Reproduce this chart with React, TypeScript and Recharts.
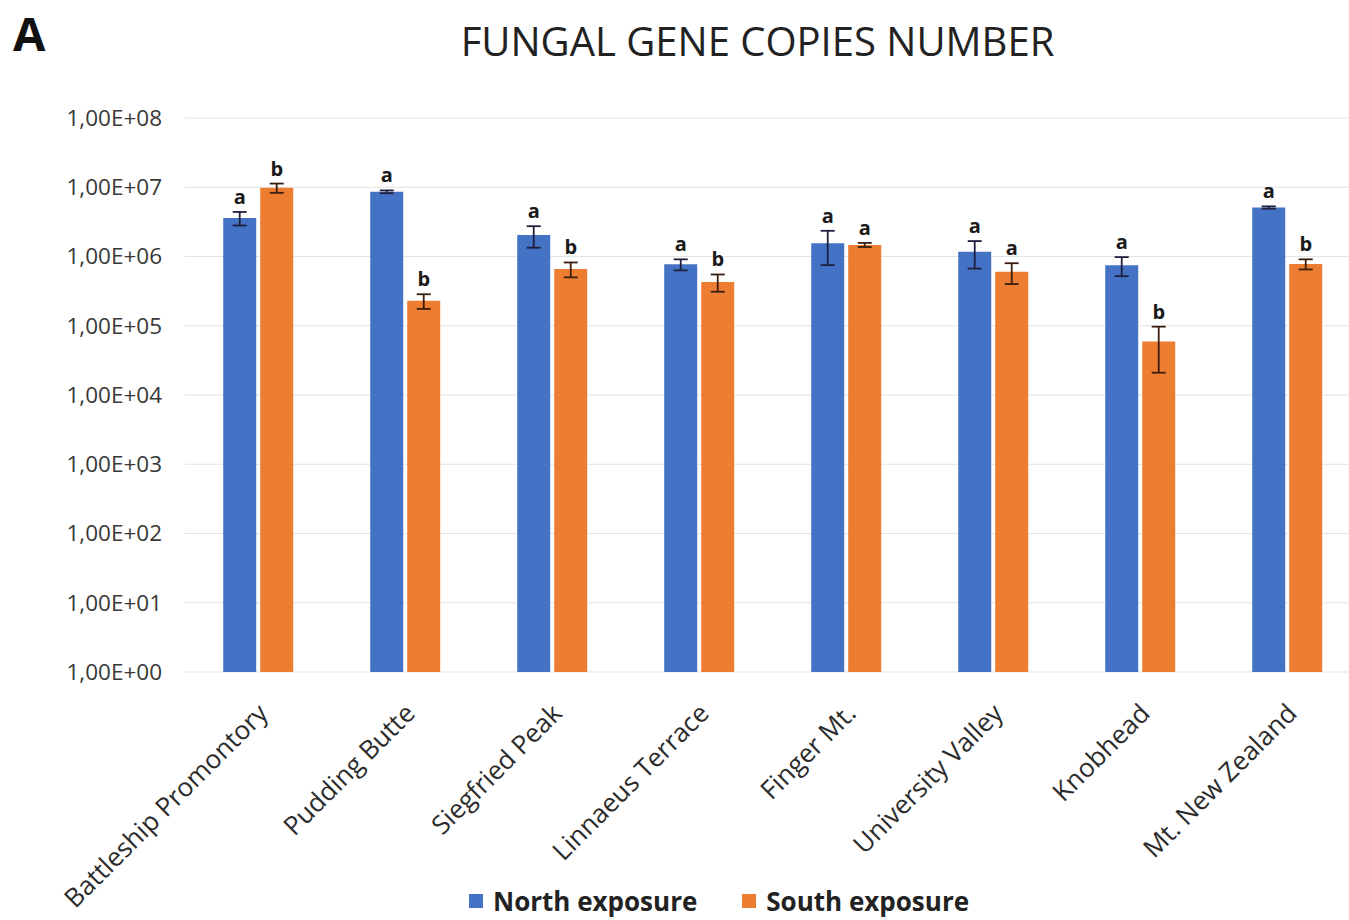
import { BarChart, Bar, XAxis, YAxis, CartesianGrid, ErrorBar, LabelList } from "recharts";

const sites = [
  "Battleship Promontory",
  "Pudding Butte",
  "Siegfried Peak",
  "Linnaeus Terrace",
  "Finger Mt.",
  "University Valley",
  "Knobhead",
  "Mt. New Zealand",
];
const northValues = [3.6e6, 8.6e6, 2.04e6, 7.7e5, 1.55e6, 1.17e6, 7.5e5, 5.1e6];
const southValues = [9.8e6, 2.3e5, 6.6e5, 4.3e5, 1.47e6, 6.0e5, 5.9e4, 7.8e5];
const northErrors = [8e5, 4e5, 7e5, 1.4e5, 8e5, 5e5, 2.3e5, 2e5];
const southErrors = [1.5e6, 5.5e4, 1.6e5, 1.2e5, 1e5, 2e5, 3.8e4, 1.3e5];
const northLetters = ["a", "a", "a", "a", "a", "a", "a", "a"];
const southLetters = ["b", "b", "b", "b", "a", "a", "b", "b"];
const yTicks = [1, 10, 100, 1e3, 1e4, 1e5, 1e6, 1e7, 1e8];

const BLUE = "#4472C4";
const ORANGE = "#ED7D31";
const FONT = "'Open Sans', sans-serif";

const data = sites.map((site, i) => ({
  site,
  north: northValues[i],
  south: southValues[i],
  northErr: northErrors[i],
  southErr: southErrors[i],
}));

const fmtTick = (v: number) => {
  const e = Math.round(Math.log10(v));
  return `1,00E+${String(e).padStart(2, "0")}`;
};

const SiteTick = (props: any) => {
  const { x, y, payload } = props;
  return (
    <text
      transform={`translate(${x + 11},${y + 43}) rotate(-45)`}
      textAnchor="end"
      fontFamily={FONT}
      fontSize={26}
      fill="#2b2b2b"
    >
      {payload.value}
    </text>
  );
};

// letter above the error bar: bar height / log10(value) gives px per decade
const makeLetter = (values: number[], errors: number[], letters: string[]) => (props: any) => {
  const vb = props.viewBox ?? props;
  const { x, y, width, height } = vb;
  const i = props.index;
  if (i == null || x == null) return null;
  const v = values[i];
  const pxPerDecade = height / Math.log10(v);
  const errTop = y - Math.log10((v + errors[i]) / v) * pxPerDecade;
  return (
    <text
      x={x + width / 2}
      y={errTop - 8}
      textAnchor="middle"
      fontFamily={FONT}
      fontWeight="bold"
      fontSize={20}
      fill="#1a1a1a"
    >
      {letters[i]}
    </text>
  );
};

export default function App() {
  return (
    <div
      style={{
        position: "absolute",
        left: 0,
        top: 0,
        width: 1349,
        height: 920,
        overflow: "hidden",
        background: "#fff",
        fontFamily: FONT,
      }}
    >
      <div style={{ position: "absolute", left: 13, top: 52 - 47 * 1.07, fontSize: 47, fontWeight: "bold", lineHeight: 1.36, color: "#111" }}>
        A
      </div>
      <div
        style={{
          position: "absolute",
          left: 0,
          width: 1515,
          top: 13,
          textAlign: "center",
          fontSize: 40,
          color: "#222",
          whiteSpace: "nowrap",
        }}
      >
        FUNGAL GENE COPIES NUMBER
      </div>

      <div style={{ position: "absolute", left: 0, top: 0 }}>
        <BarChart
          width={1375}
          height={920}
          data={data}
          margin={{ top: 118, right: 14, bottom: 48, left: 85 }}
          barCategoryGap="26%"
          barGap={4}
        >
          <CartesianGrid vertical={false} stroke="#e3e3e3" />
          <XAxis
            dataKey="site"
            interval={0}
            tickLine={false}
            axisLine={false}
            tickSize={0}
            tickMargin={0}
            height={200}
            tick={<SiteTick />}
          />
          <YAxis
            type="number"
            scale="log"
            domain={[1, 1e8]}
            ticks={yTicks}
            tickFormatter={fmtTick}
            width={100}
            tickLine={false}
            axisLine={false}
            tickSize={0}
            tickMargin={23}
            tick={{ fontFamily: FONT, fontSize: 22.5, fill: "#383838" }}
          />
          <Bar dataKey="north" fill={BLUE} isAnimationActive={false}>
            <ErrorBar dataKey="northErr" width={7} strokeWidth={1.8} stroke="#1f1f3f" direction="y" />
            <LabelList dataKey="north" content={makeLetter(northValues, northErrors, northLetters)} />
          </Bar>
          <Bar dataKey="south" fill={ORANGE} isAnimationActive={false}>
            <ErrorBar dataKey="southErr" width={7} strokeWidth={1.8} stroke="#3a1f10" direction="y" />
            <LabelList dataKey="south" content={makeLetter(southValues, southErrors, southLetters)} />
          </Bar>
        </BarChart>
      </div>

      <div
        style={{
          position: "absolute",
          left: 469,
          top: 883,
          display: "flex",
          alignItems: "center",
          fontSize: 26,
          fontWeight: "bold",
          color: "#222",
          whiteSpace: "nowrap",
        }}
      >
        <span style={{ width: 14, height: 14, background: BLUE, display: "inline-block", marginRight: 10 }} />
        <span>North exposure</span>
        <span style={{ width: 14, height: 14, background: ORANGE, display: "inline-block", marginLeft: 45, marginRight: 10 }} />
        <span>South exposure</span>
      </div>
    </div>
  );
}
